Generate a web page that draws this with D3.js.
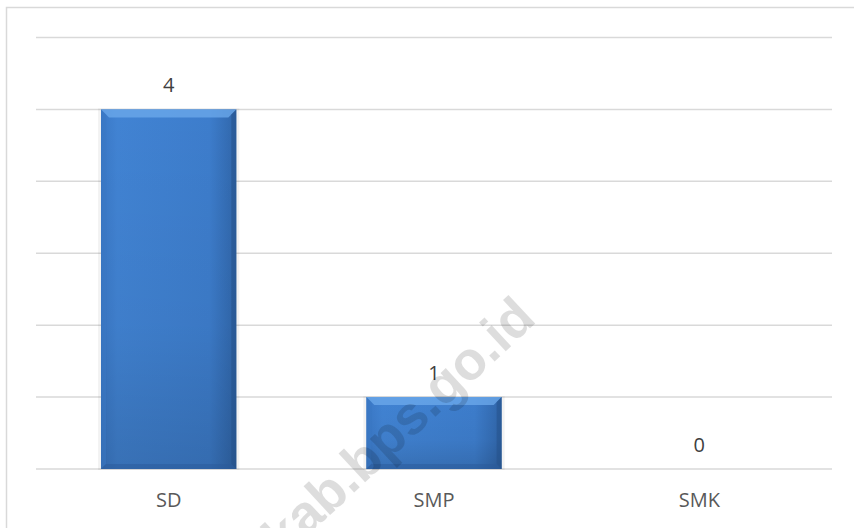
<!DOCTYPE html>
<html><head><meta charset="utf-8">
<script src="https://cdn.jsdelivr.net/npm/d3@7"></script>
<style>body{margin:0;background:#fff}svg{display:block}</style>
</head><body>
<script>
const categories = ["SD", "SMP", "SMK"];
const values = [4, 1, 0];           // printed data labels
const barHeights = [5, 1, 0];       // bar lengths as drawn in the reference (gridline units)
const yTicks = [0, 1, 2, 3, 4, 5, 6];

const W = 854, H = 528;
const FONT = "'Open Sans', 'Liberation Sans', sans-serif";
const svg = d3.select("body").append("svg").attr("width", W).attr("height", H);
const defs = svg.append("defs");
const g1 = defs.append("linearGradient").attr("id","barH").attr("x1","0").attr("x2","1").attr("y1","0").attr("y2","0");
g1.append("stop").attr("offset","0").attr("stop-color","#3a78c6");
g1.append("stop").attr("offset","0.12").attr("stop-color","#4183d3");
g1.append("stop").attr("offset","0.8").attr("stop-color","#3d7dcc");
g1.append("stop").attr("offset","1").attr("stop-color","#3066aa");
const g2 = defs.append("linearGradient").attr("id","barV").attr("x1","0").attr("x2","0").attr("y1","0").attr("y2","1");
g2.append("stop").attr("offset","0").attr("stop-color","#000").attr("stop-opacity","0");
g2.append("stop").attr("offset","0.6").attr("stop-color","#000").attr("stop-opacity","0.04");
g2.append("stop").attr("offset","1").attr("stop-color","#000").attr("stop-opacity","0.14");

// chart border
svg.append("rect").attr("x",6.5).attr("y",7.5).attr("width",W+10).attr("height",H+10)
  .attr("fill","none").attr("stroke","#d9d9d9").attr("stroke-width",1.5);

const x = d3.scaleBand().domain(categories).range([36, 832]).paddingInner(0.49).paddingOuter(0.245);
const y = d3.scaleLinear().domain([0, 6]).range([469, 37.5]);

// gridlines
svg.append("g").selectAll("line").data(yTicks).join("line")
  .attr("x1",36).attr("x2",832).attr("y1",d=>y(d)).attr("y2",d=>y(d))
  .attr("stroke","#d9d9d9").attr("stroke-width",1.5);

const data = categories.map((c,i)=>({c, v:values[i], h:barHeights[i]}));

// bars
const bars = svg.append("g").selectAll("g").data(data.filter(d=>d.h>0)).join("g");
bars.append("rect").attr("x",d=>x(d.c)-3).attr("y",d=>y(d.h)-1).attr("width",x.bandwidth()+6).attr("height",d=>y(0)-y(d.h)+2)
  .attr("fill","#000").attr("opacity",0.05);
bars.append("rect").attr("x",d=>x(d.c)).attr("y",d=>y(d.h)).attr("width",x.bandwidth()).attr("height",d=>y(0)-y(d.h))
  .attr("fill","url(#barH)");
bars.append("rect").attr("x",d=>x(d.c)).attr("y",d=>y(d.h)).attr("width",x.bandwidth()).attr("height",d=>y(0)-y(d.h))
  .attr("fill","url(#barV)");
// top bevel
bars.append("path").attr("d",d=>{
  const x0=x(d.c), x1=x0+x.bandwidth(), t=y(d.h), b=8;
  return `M${x0},${t}L${x1},${t}L${x1-b},${t+b}L${x0+b},${t+b}Z`;
}).attr("fill","#6aa8ea").attr("opacity",0.8);
// left bevel
bars.append("path").attr("d",d=>{
  const x0=x(d.c), t=y(d.h), bt=y(0), b=5;
  return `M${x0},${t}L${x0+b},${t+b}L${x0+b},${bt-b}L${x0},${bt}Z`;
}).attr("fill","#3a78c4").attr("opacity",0.5);
// right bevel
bars.append("path").attr("d",d=>{
  const x1=x(d.c)+x.bandwidth(), t=y(d.h), bt=y(0), b=5;
  return `M${x1},${t}L${x1-b},${t+b}L${x1-b},${bt-b}L${x1},${bt}Z`;
}).attr("fill","#244f88").attr("opacity",0.5);
// bottom bevel
bars.append("path").attr("d",d=>{
  const x0=x(d.c), x1=x0+x.bandwidth(), bt=y(0), b=5;
  return `M${x0},${bt}L${x1},${bt}L${x1-b},${bt-b}L${x0+b},${bt-b}Z`;
}).attr("fill","#2a5a9a").attr("opacity",0.5);

// value labels
svg.append("g").selectAll("text").data(data).join("text")
  .attr("x",d=>x(d.c)+x.bandwidth()/2).attr("y",d=>y(d.h)-17)
  .attr("text-anchor","middle").attr("font-family",FONT)
  .attr("font-size",20).attr("fill","#404040").text(d=>d.v);

// x axis labels
const xAxis = d3.axisBottom(x).tickSize(0).tickPadding(0);
const ax = svg.append("g").attr("transform",`translate(0,${y(0)})`).call(xAxis);
ax.select(".domain").remove();
ax.selectAll("text").attr("dy",null).attr("y",38).attr("font-family",FONT).attr("font-size",20).attr("fill","#595959");

// watermark
svg.append("text").attr("transform","translate(538,321) rotate(-43)")
  .attr("text-anchor","end").attr("font-family","'Liberation Sans', Arial, sans-serif").attr("font-weight","bold")
  .attr("font-size",54).attr("fill","#000").attr("opacity",0.13).text("kab.bps.go.id");
</script>
</body></html>
